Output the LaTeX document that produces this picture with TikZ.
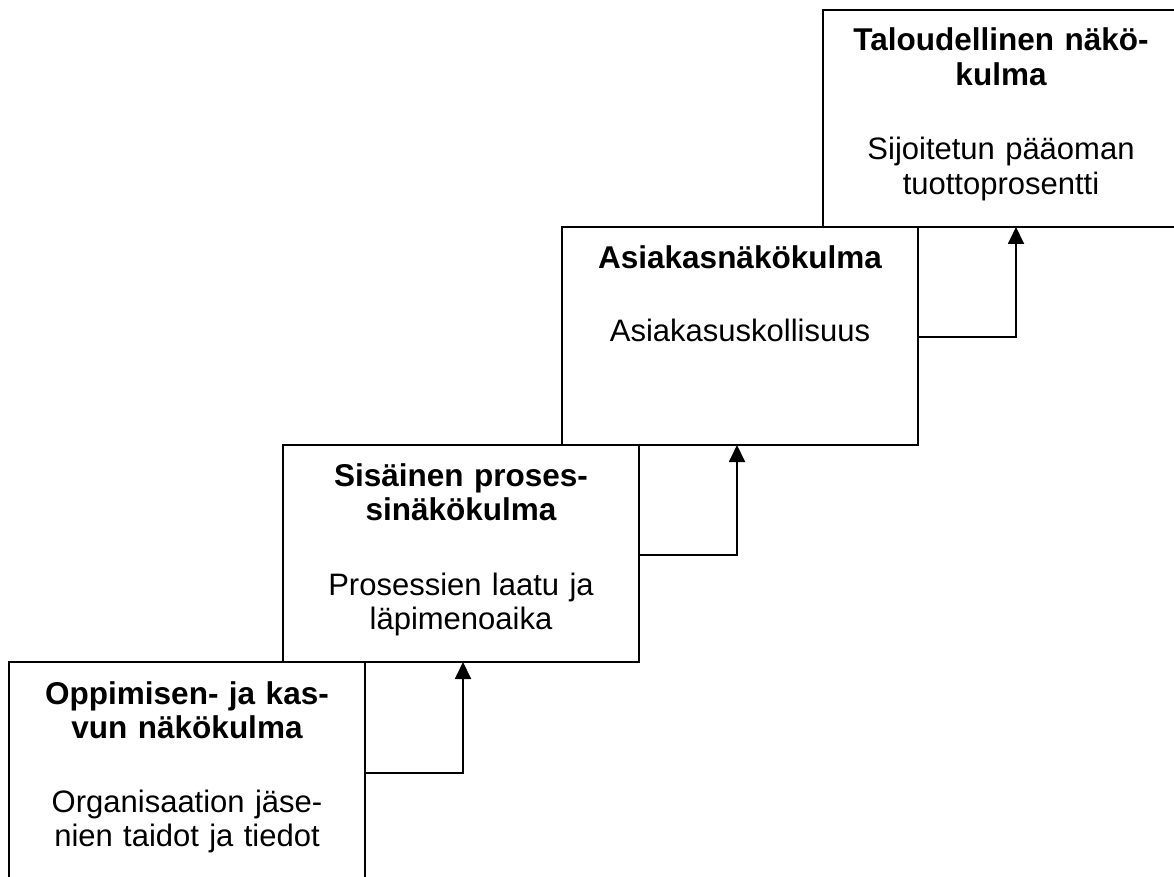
\documentclass[tikz,border=0pt]{standalone}
\usepackage{fontspec}
\setmainfont{Liberation Sans}
\usetikzlibrary{arrows.meta}
\begin{document}
\begin{tikzpicture}[x=1pt,y=-1pt,
  box/.style={draw, line width=1.9pt, minimum width=356pt, minimum height=217pt, anchor=north west, inner sep=0pt, outer sep=0pt},
  ttl/.style={anchor=base, text width=345pt, align=center, inner sep=0pt, font=\fontsize{31.5}{34.7}\selectfont\bfseries},
  bdy/.style={anchor=base, text width=345pt, align=center, inner sep=0pt, font=\fontsize{31}{34.7}\selectfont},
  arr/.style={line width=1.9pt, -{Triangle[length=17pt,width=16pt]}}]
\useasboundingbox (0,0) rectangle (1174,877);
\node[box, minimum height=240pt] (b1) at (9,662) {};
\node[box] (b2) at (283,445) {};
\node[box, minimum height=218pt] (b3) at (562,227) {};
\node[box] (b4) at (823,10) {};
% texts
\node[ttl] (t1) at ([yshift=-42pt]b1.north) {Oppimisen- ja kas-\\vun näkökulma};
\node[bdy] (d1) at ([yshift=-150pt]b1.north) {Organisaation jäse-\\nien taidot ja tiedot};
\node[ttl] (t2) at ([yshift=-41pt]b2.north) {Sisäinen proses-\\sinäkökulma};
\node[bdy] (d2) at ([yshift=-150pt]b2.north) {Prosessien laatu ja\\läpimenoaika};
\node[ttl] (t3) at ([yshift=-41pt]b3.north) {Asiakasnäkökulma};
\node[bdy] (d3) at ([yshift=-114pt]b3.north) {Asiakasuskollisuus};
\node[ttl] (t4) at ([yshift=-41pt]b4.north) {Taloudellinen näkö-\\kulma};
\node[bdy] (d4) at ([yshift=-150pt]b4.north) {Sijoitetun pääoman\\tuottoprosentti};
% connectors
\coordinate (j1) at (463,773);
\coordinate (j2) at (737,555);
\coordinate (j3) at (1016,337);
\draw[arr] (j1 -| b1.east) -| (j1 |- b2.south);
\draw[arr] (j2 -| b2.east) -| (j2 |- b3.south);
\draw[arr] (j3 -| b3.east) -| (j3 |- b4.south);
\end{tikzpicture}
\end{document}
